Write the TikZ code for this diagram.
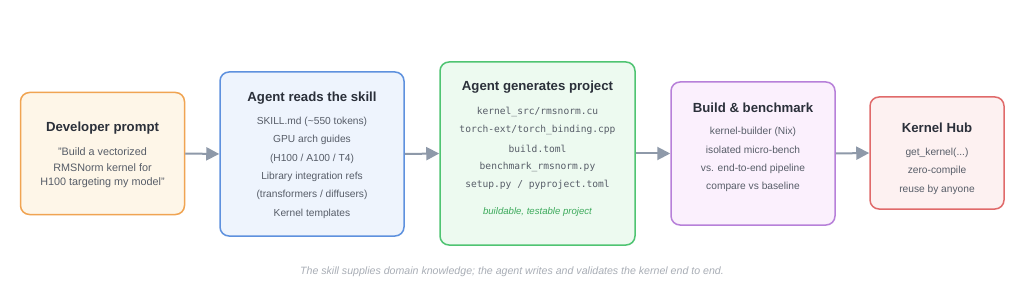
\documentclass[tikz,border=0pt]{standalone}
\usepackage{fontspec}
\setmainfont{Liberation Sans}
\setmonofont{DejaVu Sans Mono}
\usetikzlibrary{arrows.meta}
\definecolor{titlec}{HTML}{2B303A}
\definecolor{bodyc}{HTML}{575D68}
\definecolor{arrowc}{HTML}{8E99A9}
\definecolor{capc}{HTML}{A9AEB6}
\definecolor{greent}{HTML}{3DAA5C}
\definecolor{oF}{HTML}{FEF6E8}\definecolor{oD}{HTML}{F0A452}
\definecolor{bF}{HTML}{EEF4FD}\definecolor{bD}{HTML}{5E91DE}
\definecolor{gF}{HTML}{EDFAF0}\definecolor{gD}{HTML}{4FC472}
\definecolor{pF}{HTML}{FBF0FD}\definecolor{pD}{HTML}{B780D9}
\definecolor{rF}{HTML}{FDF1F1}\definecolor{rD}{HTML}{E06A6A}
\tikzset{
  card/.style={draw, line width=1.5pt, rounded corners=9pt, inner sep=0pt},
  ttl/.style={font=\bfseries\fontsize{13.2}{15}\selectfont, text=titlec, inner sep=0pt, anchor=center},
  bodyt/.style={font=\fontsize{10.2}{12}\selectfont, text=bodyc, inner sep=0pt, anchor=center},
  bigbody/.style={bodyt, font=\fontsize{10.8}{13}\selectfont},
  codet/.style={font=\ttfamily\fontsize{9.6}{12}\selectfont, text=bodyc, inner sep=0pt, anchor=center},
  flow/.style={draw=arrowc, line width=2pt, -{Triangle[length=13pt,width=13pt]}},
}
\begin{document}
\begin{tikzpicture}[x=1pt,y=-1pt]
\useasboundingbox[fill=white] (0,0) rectangle (1024,307);
% boxes
\node[card, draw=oD, fill=oF, minimum width=164pt, minimum height=122pt] (b1) at (102.5,153.5) {};
\node[card, draw=bD, fill=bF, minimum width=184pt, minimum height=164pt] (b2) at (312,154) {};
\node[card, draw=gD, fill=gF, minimum width=195pt, minimum height=183pt] (b3) at (537.5,153.5) {};
\node[card, draw=pD, fill=pF, minimum width=164pt, minimum height=143pt] (b4) at (753,153.5) {};
\node[card, draw=rD, fill=rF, minimum width=134pt, minimum height=112pt] (b5) at (937,153) {};
% box 1
\node[ttl] (t1) at (102.5,128) {Developer prompt};
\node[bigbody] (l11) at (102.5,152) {"Build a vectorized};
\node[bigbody] (l12) at (102.5,167.5) {RMSNorm kernel for};
\node[bigbody] (l13) at (102.5,183) {H100 targeting my model"};
% box 2
\node[ttl] (t2) at (312,98) {Agent reads the skill};
\node[bodyt] (l21) at (312,122) {SKILL.md (\textasciitilde550 tokens)};
\node[bodyt] (l22) at (312,140.3) {GPU arch guides};
\node[bodyt] (l23) at (312,158.6) {(H100 / A100 / T4)};
\node[bodyt] (l24) at (312,176.9) {Library integration refs};
\node[bodyt] (l25) at (312,195.2) {(transformers / diffusers)};
\node[bodyt] (l26) at (312,213.5) {Kernel templates};
% box 3
\node[ttl] (t3) at (537.5,87.5) {Agent generates project};
\node[codet] (l31) at (537.5,112) {kernel\_src/rmsnorm.cu};
\node[codet] (l32) at (537.5,130.3) {torch-ext/torch\_binding.cpp};
\node[codet] (l33) at (537.5,148.6) {build.toml};
\node[codet] (l34) at (537.5,166.9) {benchmark\_rmsnorm.py};
\node[codet] (l35) at (537.5,185.2) {setup.py / pyproject.toml};
\node[bodyt, font=\itshape\fontsize{9.6}{11}\selectfont, text=greent] (l36) at (537.5,212) {buildable, testable project};
% box 4
\node[ttl] (t4) at (753,108) {Build \& benchmark};
\node[bodyt] (l41) at (753,132) {kernel-builder (Nix)};
\node[bodyt] (l42) at (753,150.3) {isolated micro-bench};
\node[bodyt] (l43) at (753,168.6) {vs. end-to-end pipeline};
\node[bodyt] (l44) at (753,186.9) {compare vs baseline};
% box 5
\node[ttl] (t5) at (937,128) {Kernel Hub};
\node[bodyt] (l51) at (937,153) {get\_kernel(...)};
\node[bodyt] (l52) at (937,171.3) {zero-compile};
\node[bodyt] (l53) at (937,189.6) {reuse by anyone};
% arrows
\draw[flow] (b1.east) -- (b2.west);
\draw[flow] (b2.east) -- (b3.west);
\draw[flow] (b3.east) -- (b4.west);
\draw[flow] (b4.east) -- (b5.west);
% caption
\node[bodyt, font=\itshape\fontsize{10.6}{12}\selectfont, text=capc] (cap) at (512,272) {The skill supplies domain knowledge; the agent writes and validates the kernel end to end.};
\end{tikzpicture}
\end{document}
